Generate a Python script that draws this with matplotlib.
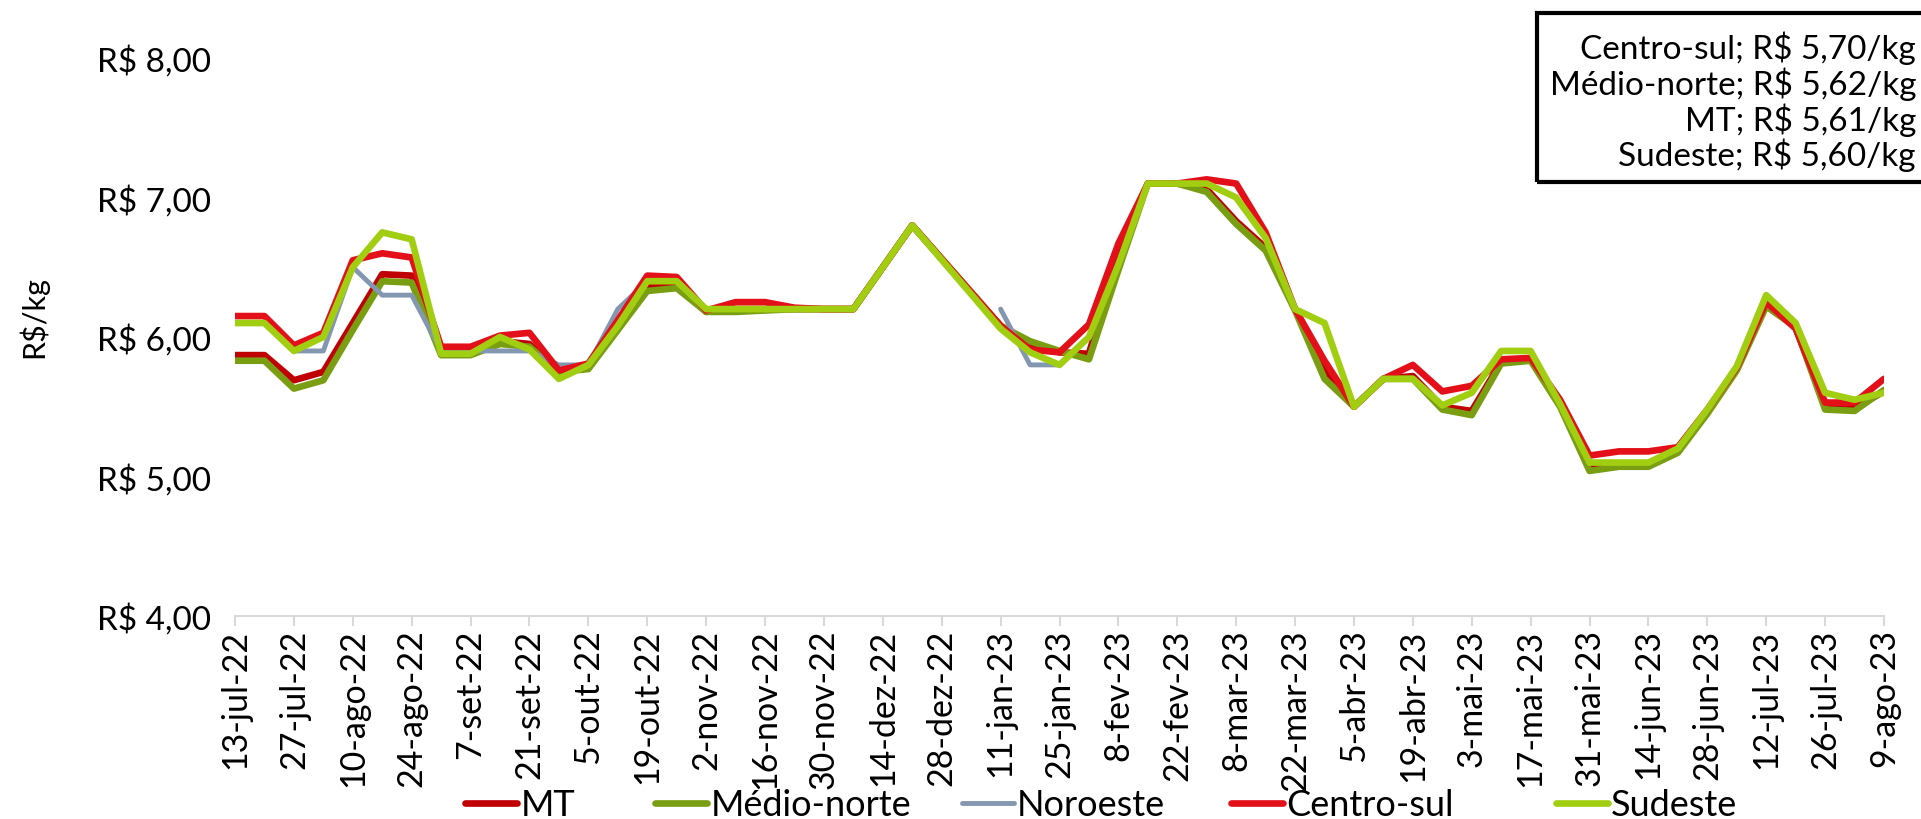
import matplotlib
matplotlib.use("Agg")
import matplotlib.pyplot as plt
import numpy as np
import pandas as pd
from matplotlib.lines import Line2D
from matplotlib.patches import Rectangle

plt.rcParams['font.family'] = ['Lato', 'DejaVu Sans']

# ---------------- data ----------------
# weekly observations (weeks 14-dez-22, 28-dez-22 and 4-jan-23 have no data)
all_weeks = pd.date_range("2022-07-13", "2023-08-09", freq="7D")
missing_weeks = pd.to_datetime(["2022-12-14", "2022-12-28", "2023-01-04"])
dates = all_weeks[~all_weeks.isin(missing_weeks)]

nan = np.nan
mt = [5.87, 5.87, 5.69, 5.75, 6.10, 6.45, 6.44, 5.90, 5.90, 5.97, 5.95, 5.74, 5.78, 6.08,
      6.37, 6.38, 6.18, 6.20, 6.20, 6.20, 6.20, 6.20, 6.80, 6.08, 5.95, 5.89, 5.88,
      6.60, 7.10, 7.10, 7.06, 6.83, 6.64, 6.20, 5.77, 5.50, 5.70, 5.72, 5.50, 5.47, 5.82,
      5.84, 5.52, 5.07, 5.09, 5.09, 5.18, 5.46, 5.77, 6.24, 6.07, 5.50, 5.49, 5.61]
medio_norte = [5.83, 5.83, 5.63, 5.69, 6.05, 6.40, 6.39, 5.87, 5.87, 5.95, 5.93, 5.75, 5.77, 6.05,
               6.33, 6.35, 6.18, 6.18, 6.19, 6.20, 6.20, 6.20, 6.80, 6.08, 5.97, 5.90, 5.84,
               6.48, 7.10, 7.10, 7.04, 6.81, 6.62, 6.19, 5.70, 5.50, 5.70, 5.70, 5.48, 5.44, 5.81,
               5.83, 5.50, 5.04, 5.07, 5.07, 5.17, 5.45, 5.76, 6.22, 6.07, 5.48, 5.47, 5.62]
noroeste = [6.10, 6.10, 5.90, 5.90, 6.50, 6.30, 6.30, 5.90, 5.90, 5.90, 5.90, 5.80, 5.80, 6.20,
            6.40, 6.40, nan, nan, nan, nan, nan, nan, nan, 6.20, 5.80, 5.80, nan,
            nan, nan, nan, nan, nan, nan, nan, nan, nan, nan, nan, nan, nan, nan,
            nan, nan, nan, nan, nan, nan, nan, nan, nan, nan, nan, nan, nan]
centro_sul = [6.15, 6.15, 5.94, 6.03, 6.55, 6.60, 6.57, 5.93, 5.93, 6.01, 6.03, 5.76, 5.81, 6.12,
              6.44, 6.43, 6.19, 6.25, 6.25, 6.21, 6.20, 6.20, 6.80, 6.08, 5.91, 5.89, 6.09,
              6.67, 7.10, 7.10, 7.13, 7.10, 6.75, 6.20, 5.83, 5.50, 5.70, 5.80, 5.61, 5.65, 5.84,
              5.85, 5.55, 5.15, 5.18, 5.18, 5.21, 5.48, 5.78, 6.25, 6.06, 5.53, 5.53, 5.70]
sudeste = [6.10, 6.10, 5.90, 6.00, 6.50, 6.75, 6.70, 5.88, 5.88, 6.00, 5.91, 5.70, 5.80, 6.08,
           6.40, 6.40, 6.20, 6.20, 6.20, 6.20, 6.20, 6.20, 6.80, 6.06, 5.89, 5.80, 6.00,
           6.52, 7.10, 7.10, 7.10, 7.00, 6.71, 6.20, 6.10, 5.50, 5.70, 5.70, 5.51, 5.60, 5.90,
           5.90, 5.52, 5.10, 5.10, 5.10, 5.20, 5.48, 5.79, 6.30, 6.10, 5.60, 5.55, 5.60]

series_names = ["MT", "Médio-norte", "Noroeste", "Centro-sul", "Sudeste"]
series_values = [mt, medio_norte, noroeste, centro_sul, sudeste]
series_colors = ["#C00000", "#7A9E12", "#8497B0", "#E3101A", "#A2CE12"]
series_widths = [4.8, 4.8, 3.5, 4.8, 4.8]

tick_dates = pd.date_range("2022-07-13", "2023-08-09", freq="14D")
tick_labels = ["13-jul-22", "27-jul-22", "10-ago-22", "24-ago-22", "7-set-22", "21-set-22",
               "5-out-22", "19-out-22", "2-nov-22", "16-nov-22", "30-nov-22", "14-dez-22",
               "28-dez-22", "11-jan-23", "25-jan-23", "8-fev-23", "22-fev-23", "8-mar-23",
               "22-mar-23", "5-abr-23", "19-abr-23", "3-mai-23", "17-mai-23", "31-mai-23",
               "14-jun-23", "28-jun-23", "12-jul-23", "26-jul-23", "9-ago-23"]

y_ticks = [4, 5, 6, 7, 8]
y_tick_labels = ["R$ 4,00", "R$ 5,00", "R$ 6,00", "R$ 7,00", "R$ 8,00"]

box_lines = ["Centro-sul; R$ 5,70/kg", "Médio-norte; R$ 5,62/kg",
             "MT; R$ 5,61/kg", "Sudeste; R$ 5,60/kg"]

# ---------------- figure ----------------
W, H = 1921, 820
fig = plt.figure(figsize=(W / 100, H / 100), dpi=100)
ax = fig.add_axes([235 / W, 1 - 617 / H, (1884 - 235) / W, (617 - 59) / H])

handles = []
for name, vals, col, lw in zip(series_names, series_values, series_colors, series_widths):
    ax.plot(dates, vals, color=col, lw=lw, solid_capstyle='round',
            solid_joinstyle='round', label=name)
    handles.append(Line2D([0], [0], color=col, lw=lw, solid_capstyle='round'))

ax.set_ylim(4, 8)
ax.set_yticks(y_ticks)
ax.set_yticklabels(y_tick_labels)
ax.set_xlim(dates[0], dates[-1])
ax.set_xticks(tick_dates)
ax.set_xticklabels(tick_labels, rotation=90, ha='center', va='top')

for s in ['top', 'right', 'left']:
    ax.spines[s].set_visible(False)
ax.spines['bottom'].set_color('#D9D9D9')
ax.spines['bottom'].set_linewidth(1.5)

ax.tick_params(axis='y', length=0, pad=17, labelsize=24)
ax.tick_params(axis='x', length=7, width=1.5, color='#D9D9D9', pad=2, labelsize=24.5)

fig.text(33 / W, 1 - 317 / H, "R$/kg", rotation=90, ha='center', va='center', fontsize=22)

# legend entries, positioned like the original
legend_x = [465, 655, 962, 1231, 1556]
for h, name, lx in zip(handles, series_names, legend_x):
    fig.legend([h], [name], loc='center left', bbox_to_anchor=(lx / W, 1 - 806 / H),
               frameon=False, fontsize=26, handlelength=1.45, handletextpad=0.08,
               borderpad=0, borderaxespad=0)

fig.patches.append(Rectangle((1537 / W, 1 - 183 / H), (1930 - 1537) / W, (183 - 14) / H,
                             transform=fig.transFigure, fill=False, lw=3, ec='black'))
box_y = [48, 84, 120, 155]
for txt, by in zip(box_lines, box_y):
    fig.text(1916 / W, 1 - by / H, txt, ha='right', va='center', fontsize=24)

fig.savefig("out.png", dpi=100)
